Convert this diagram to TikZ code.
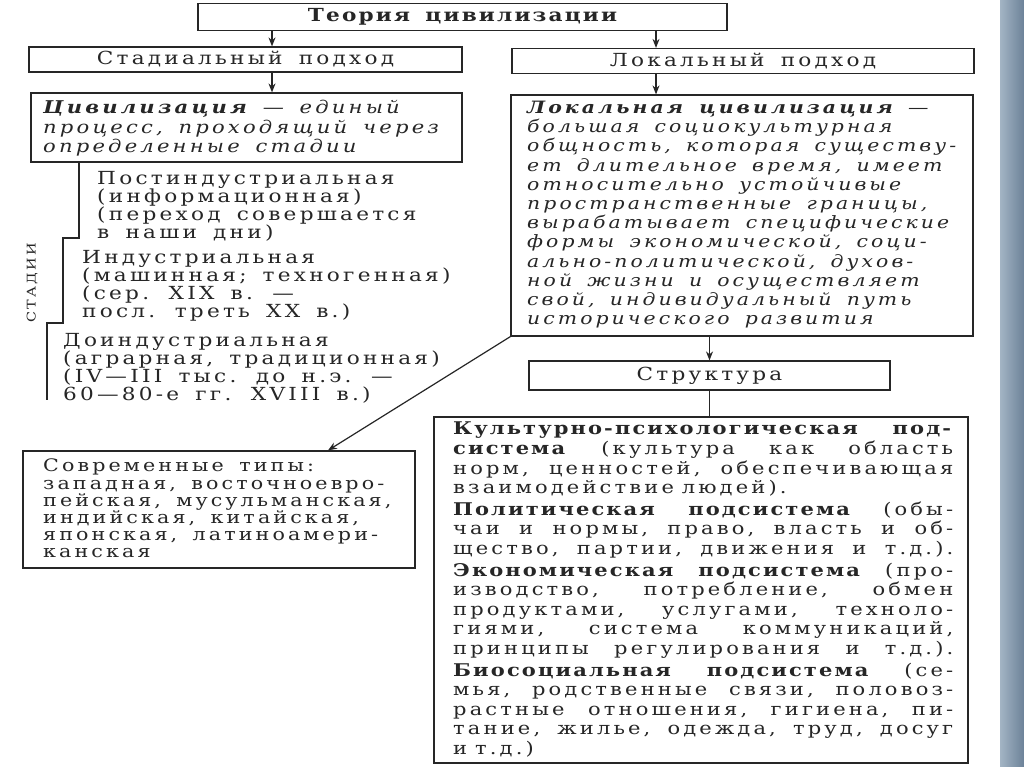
\documentclass[tikz,border=0pt]{standalone}
\usepackage{fontspec}
\setmainfont{DejaVu Serif}[FakeStretch=1.2,WordSpace={1.6,3,1},
  UprightFeatures={LetterSpace=18},BoldFeatures={LetterSpace=12},
  ItalicFeatures={LetterSpace=18},BoldItalicFeatures={LetterSpace=18}]
\usepackage{tikz}
\usetikzlibrary{arrows.meta}
\definecolor{ink}{HTML}{262626}
\definecolor{stripeL}{HTML}{A3B4C4}
\definecolor{stripeR}{HTML}{6C8298}
\newcommand{\gap}{\hspace{0.45em plus 1fil}}
\newcommand{\fgap}{\hspace{0.45em}}
\newcommand{\jl}[2][0pt]{\makebox[\linewidth][s]{#2}\\[#1]}

\begin{document}
\begin{tikzpicture}[x=1pt,y=-1pt,>={Stealth[length=9pt,width=7pt]},
  box/.style={draw=ink,line width=1.2pt,inner sep=0pt},
  txt/.style={text=ink,inner sep=0pt,align=left,anchor=north west},
  lbl/.style={text=ink,inner sep=0pt}]
  \useasboundingbox[fill=white] (0,0) rectangle (1024,767);
  \shade[left color=stripeL,right color=stripeR] (1000,0) rectangle (1024,767);

  \node[box,minimum width=529pt,minimum height=27pt] (theory) at (462.5,17) {};
  \node[box,minimum width=433pt,minimum height=25pt] (stadial) at (245.5,59.5) {};
  \node[box,minimum width=462pt,minimum height=25pt] (local) at (743,61) {};
  \node[box,minimum width=431pt,minimum height=69pt] (civ) at (246.5,127.5) {};
  \node[box,minimum width=462pt,minimum height=241pt] (localciv) at (742,215.5) {};
  \node[box,minimum width=361pt,minimum height=29pt] (struct) at (709.5,375.5) {};
  \node[box,minimum width=534pt,minimum height=346pt] (subsys) at (701,590) {};
  \node[box,minimum width=392pt,minimum height=117pt] (types) at (219,509.5) {};

  \node[lbl,font=\fontsize{18}{19}\selectfont\bfseries] (theorylabel) at (theory) {Теория цивилизации};
  \node[lbl,font=\fontsize{18}{19}\selectfont] (stadiallabel) at (stadial) {Стадиальный подход};
  \node[lbl,font=\fontsize{18}{19}\selectfont] (locallabel) at (local) {Локальный подход};
  \node[lbl,font=\fontsize{18}{19}\selectfont] (structlabel) at (struct) {Структура};

  \node[txt,font=\fontsize{17.6}{19.5}\selectfont\itshape] (civtext) at (43,100)
    {\textbf{Цивилизация} — единый\\процесс, проходящий через\\определенные стадии};
  \node[txt,font=\fontsize{18}{18}\selectfont] (post) at (97,171)
    {Постиндустриальная\\(информационная)\\(переход совершается\\в наши дни)};
  \node[txt,font=\fontsize{18}{18}\selectfont] (ind) at (82,250)
    {Индустриальная\\(машинная; техногенная)\\(сер. XIX в. —\\посл. треть XX в.)};
  \node[txt,font=\fontsize{18}{18}\selectfont] (pre) at (63,333)
    {Доиндустриальная\\(аграрная, традиционная)\\(IV—III тыс. до н.э. —\\60—80-е гг. XVIII в.)};
  \node[lbl,rotate=90,font=\fontsize{12}{14}\selectfont\addfontfeatures{LetterSpace=22}] (stages) at (32,283) {СТАДИИ};

  \node[txt,font=\fontsize{17}{19.2}\selectfont\itshape] (localtext) at (527,101)
    {\textbf{Локальная цивилизация} —\\большая социокультурная\\общность, которая существу-\\ет длительное время, имеет\\относительно устойчивые\\пространственные границы,\\вырабатывает специфические\\формы экономической, соци-\\ально-политической, духов-\\ной жизни и осуществляет\\свой, индивидуальный путь\\исторического развития};

  \node[txt,font=\fontsize{17.2}{17.2}\selectfont] (typestext) at (43,459)
    {Современные типы:\\западная, восточноевро-\\пейская, мусульманская,\\индийская, китайская,\\японская, латиноамери-\\канская};

  \node[txt,text width=500pt,font=\fontsize{17.5}{19.6}\selectfont] (subtext) at (453,422)
    {\jl{\textbf{Культурно-психологическая}\gap\textbf{под-}}
     \jl{\textbf{система}\gap(культура\gap как\gap область}
     \jl{норм,\gap ценностей,\gap обеспечивающая}
     взаимодействие\fgap людей).\\[2pt]
     \jl{\textbf{Политическая}\gap\textbf{подсистема}\gap(обы-}
     \jl{чаи\gap и\gap нормы,\gap право,\gap власть\gap и\gap об-}
     \jl[2pt]{щество,\gap партии,\gap движения\gap и\gap т.д.).}
     \jl{\textbf{Экономическая}\gap\textbf{подсистема}\gap(про-}
     \jl{изводство,\gap потребление,\gap обмен}
     \jl{продуктами,\gap услугами,\gap техноло-}
     \jl{гиями,\gap система\gap коммуникаций,}
     \jl[2pt]{принципы\gap регулирования\gap и\gap т.д.).}
     \jl{\textbf{Биосоциальная}\gap\textbf{подсистема}\gap(се-}
     \jl{мья,\gap родственные\gap связи,\gap половоз-}
     \jl{растные\gap отношения,\gap гигиена,\gap пи-}
     \jl{тание,\gap жилье,\gap одежда,\gap труд,\gap досуг}
     и\fgap т.д.)};

  \coordinate (sx) at (272,0);
  \coordinate (lx) at (656,0);
  \coordinate (tx) at (328,0);
  \draw[ink,line width=1.2pt,->] (sx |- theory.south) -- (sx |- stadial.north);
  \draw[ink,line width=1.2pt,->] (lx |- theory.south) -- (lx |- local.north);
  \draw[ink,line width=1.2pt,->] (sx |- stadial.south) -- (sx |- civ.north);
  \draw[ink,line width=1.2pt,->] (lx |- local.south) -- (lx |- localciv.north);
  \draw[ink,line width=1.2pt,->] (struct.north |- localciv.south) -- (struct.north);
  \draw[ink,line width=1.2pt] (struct.south) -- (struct.south |- subsys.north);
  \draw[ink,line width=1.2pt,->] (localciv.south west) -- (tx |- types.north);
  \draw[ink,line width=1.2pt] (79,162) -- (79,238) -- (63,238) -- (63,323) -- (47,323) -- (47,400);
\end{tikzpicture}
\end{document}
